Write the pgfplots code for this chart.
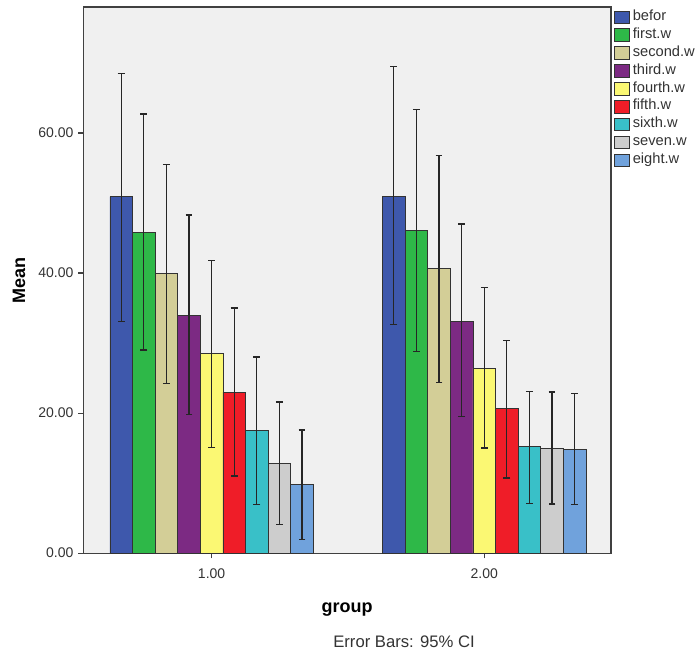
\documentclass[border=0pt]{standalone}
\usepackage{fontspec}
\setmainfont{Liberation Sans}
\usepackage{pgfplots}
\pgfplotsset{compat=1.18}

\definecolor{cBefor}{HTML}{3E58AC}
\definecolor{cFirst}{HTML}{2EB848}
\definecolor{cSecond}{HTML}{D3CE97}
\definecolor{cThird}{HTML}{7C2A83}
\definecolor{cFourth}{HTML}{FBF873}
\definecolor{cFifth}{HTML}{EF1D28}
\definecolor{cSixth}{HTML}{39C0C8}
\definecolor{cSeven}{HTML}{CDCDCD}
\definecolor{cEight}{HTML}{70A2DC}
\definecolor{plotbg}{HTML}{F0F0F0}

\begin{document}
\begin{tikzpicture}
\begin{axis}[
    name=ax,
    width=395.6pt, height=409.5pt, scale only axis,
    xmin=0.53, xmax=2.465, ymin=0, ymax=78,
    ybar=0pt, bar width=0.0829,
    axis background/.style={fill=plotbg},
    axis line style={black!75, line width=0.8pt},
    xtick={1,2}, ytick={0,20,40,60},
    tick pos=left, tick align=outside, major tick length=4pt,
    tick style={black!75, line width=0.8pt},
    /pgf/number format/assume math mode=true,
    xticklabel style={yshift=-4pt, /pgf/number format/.cd, fixed, fixed zerofill, precision=2},
    yticklabel style={/pgf/number format/.cd, fixed, fixed zerofill, precision=2},
    ticklabel style={font=\fontsize{10.5}{12}\selectfont, text=black!80},
    xlabel={group},
    xlabel style={font=\bfseries\fontsize{13.5}{16}\selectfont, at={(axis description cs:0.5,-0.103)}, anchor=center},
    ylabel={Mean},
    ylabel style={font=\bfseries\fontsize{13.5}{16}\selectfont, at={(axis description cs:-0.1223,0.5)}, anchor=center},
    clip=false,
    legend style={at={(axis description cs:1.006,0.998)}, anchor=north west,
        draw=none, fill=white, inner sep=0pt,
        font=\fontsize{11}{12}\selectfont, text=black!80,
        nodes={inner sep=1.2pt, text height=8pt, text depth=3pt},
        row sep=0pt,
        /tikz/every odd column/.append style={column sep=1pt}},
    legend cell align=left,
    legend image code/.code={\draw[#1, draw=black!80] (0pt,-4.7pt) rectangle (11pt,4.7pt);},
    error bars/y dir=both, error bars/y explicit,
    error bars/error bar style={black!85, line width=1pt},
    error bars/error mark options={rotate=90, mark size=2.6pt, black!85, line width=1pt},
]
\addplot[fill=cBefor, draw=black!80, line width=0.6pt] coordinates {
    (1,50.9) += (0,17.6) -= (0,17.8)
    (2,50.9) += (0,18.6) -= (0,18.3)
};
\addplot[fill=cFirst, draw=black!80, line width=0.6pt] coordinates {
    (1,45.8) += (0,16.9) -= (0,16.8)
    (2,46.1) += (0,17.3) -= (0,17.3)
};
\addplot[fill=cSecond, draw=black!80, line width=0.6pt] coordinates {
    (1,40.0) += (0,15.5) -= (0,15.8)
    (2,40.7) += (0,16.1) -= (0,16.3)
};
\addplot[fill=cThird, draw=black!80, line width=0.6pt] coordinates {
    (1,34.0) += (0,14.3) -= (0,14.2)
    (2,33.1) += (0,13.9) -= (0,13.6)
};
\addplot[fill=cFourth, draw=black!80, line width=0.6pt] coordinates {
    (1,28.5) += (0,13.3) -= (0,13.4)
    (2,26.4) += (0,11.5) -= (0,11.4)
};
\addplot[fill=cFifth, draw=black!80, line width=0.6pt] coordinates {
    (1,23.0) += (0,12.0) -= (0,12.0)
    (2,20.7) += (0,9.7) -= (0,10.0)
};
\addplot[fill=cSixth, draw=black!80, line width=0.6pt] coordinates {
    (1,17.5) += (0,10.5) -= (0,10.6)
    (2,15.2) += (0,7.9) -= (0,8.1)
};
\addplot[fill=cSeven, draw=black!80, line width=0.6pt] coordinates {
    (1,12.8) += (0,8.8) -= (0,8.7)
    (2,15.0) += (0,8.0) -= (0,8.0)
};
\addplot[fill=cEight, draw=black!80, line width=0.6pt] coordinates {
    (1,9.8) += (0,7.8) -= (0,7.9)
    (2,14.8) += (0,8.0) -= (0,7.9)
};
\legend{befor, first.w, second.w, third.w, fourth.w, fifth.w, sixth.w, seven.w, eight.w}
\node[font=\fontsize{12.5}{15}\selectfont, text=black!80] at (axis description cs:0.6076,-0.163) {Error Bars: 95\% CI};
\end{axis}
\pgfresetboundingbox
\path ([shift={(-62.6pt,-77.25pt)}]ax.south west) rectangle ([shift={(64.5pt,5.25pt)}]ax.north east);
\end{tikzpicture}
\end{document}
